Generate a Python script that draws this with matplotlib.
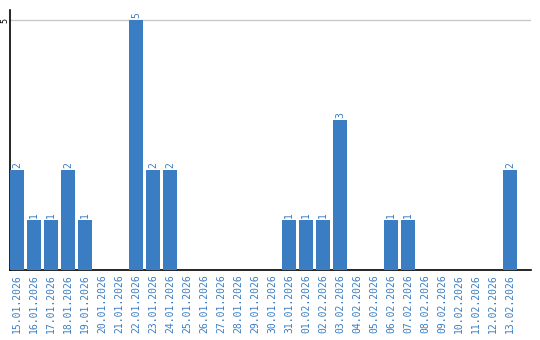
import numpy as np
import matplotlib.pyplot as plt

dates = ['15.01.2026', '16.01.2026', '17.01.2026', '18.01.2026', '19.01.2026',
         '20.01.2026', '21.01.2026', '22.01.2026', '23.01.2026', '24.01.2026',
         '25.01.2026', '26.01.2026', '27.01.2026', '28.01.2026', '29.01.2026',
         '30.01.2026', '31.01.2026', '01.02.2026', '02.02.2026', '03.02.2026',
         '04.02.2026', '05.02.2026', '06.02.2026', '07.02.2026', '08.02.2026',
         '09.02.2026', '10.02.2026', '11.02.2026', '12.02.2026', '13.02.2026']
counts = [2, 1, 1, 2, 1, 0, 0, 5, 2, 2, 0, 0, 0, 0, 0,
          0, 1, 1, 1, 3, 0, 0, 1, 1, 0, 0, 0, 0, 0, 2]

blue = '#3a7dc2'
bw = 14 / 17

fig = plt.figure(figsize=(5.4, 3.4), dpi=100)
ax = fig.add_axes([10 / 540, 70 / 340, 521 / 540, 260 / 340])

x = np.arange(len(dates))
ax.bar(x, counts, width=bw, align='edge', color=blue, zorder=3)
for xi, c in zip(x, counts):
    if c > 0:
        ax.text(xi + bw / 2, c + 0.05, str(c), rotation=90, ha='center', va='bottom',
                color=blue, fontsize=7, family='DejaVu Sans Mono')

ax.set_xlim(0, 521 / 17)
ax.set_ylim(0, 5.2)
ax.set_xticks(x + bw / 2)
ax.set_xticklabels(dates, rotation=90, color=blue, fontsize=7, family='DejaVu Sans Mono')
ax.set_yticks([5])
ax.set_yticklabels(['5'], rotation=90, ha='center', va='center', fontsize=6,
                   family='DejaVu Sans Mono')
ax.tick_params(length=0, pad=3)
ax.tick_params(axis='y', pad=3.6)
ax.grid(axis='y', color='#c8c8c8', linewidth=1, zorder=0)
for s in ['top', 'right']:
    ax.spines[s].set_visible(False)
ax.spines['left'].set_linewidth(1.2)
ax.spines['bottom'].set_linewidth(1.2)

fig.savefig('out.png', dpi=100)
